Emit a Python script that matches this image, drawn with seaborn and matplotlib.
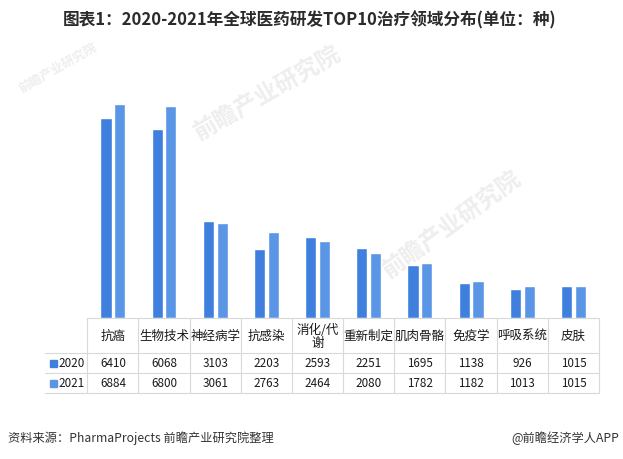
import matplotlib
matplotlib.use("Agg")
import matplotlib.pyplot as plt
import seaborn as sns
import pandas as pd

categories = ['抗癌', '生物技术', '神经病学', '抗感染', '消化/代谢', '重新制定', '肌肉骨骼', '免疫学', '呼吸系统', '皮肤']
cat_labels = ['抗癌', '生物技术', '神经病学', '抗感染', '消化/代\n谢', '重新制定', '肌肉骨骼', '免疫学', '呼吸系统', '皮肤']
years = ['2020', '2021']
v2020 = [6410, 6068, 3103, 2203, 2593, 2251, 1695, 1138, 926, 1015]
v2021 = [6884, 6800, 3061, 2763, 2464, 2080, 1782, 1182, 1013, 1015]
colors = ['#3F80DE', '#5B96E6']

sns.set_style("white")
plt.rcParams['font.family'] = ['Noto Sans CJK SC', 'DejaVu Sans']

df = pd.DataFrame({
    'cat': categories * 2,
    'year': ['2020'] * len(categories) + ['2021'] * len(categories),
    'val': v2020 + v2021,
})

W, H = 623, 460
fig = plt.figure(figsize=(W / 100, H / 100), dpi=100)
left, right, top, bottom = 87.3, 599.0, 70.0, 319.0
ax = fig.add_axes([left / W, 1 - bottom / H, (right - left) / W, (bottom - top) / H])
ax.set_facecolor('none')

def fy(ypix):
    return 1 - ypix / H

def fx(xpix):
    return xpix / W

# faint watermarks (behind everything)
wm = '前瞻产业研究院'
for (cx, cy, ang, fs) in [(268, 93, 30, 17), (452, 225, 36, 17), (58, 68, 30, 9)]:
    fig.text(fx(cx), fy(cy), wm, ha='center', va='center', rotation=ang, fontsize=fs,
             fontweight='bold', color='#EEEEEE', zorder=-5)

sns.barplot(data=df, x='cat', y='val', hue='year', order=categories, hue_order=years,
            palette=colors, width=0.54, gap=0.2, saturation=1, ax=ax, legend=False)
ax.set_xlim(-0.5, len(categories) - 0.5)
ax.set_ylim(0, 8000)
ax.set_xlabel('')
ax.set_ylabel('')
ax.set_xticks([])
ax.set_yticks([])
for s in ax.spines.values():
    s.set_visible(False)

line_col = '#D9D9D9'
col_w = (right - left) / len(categories)
y_top, y_cat, y_r1, y_r2 = 319, 354, 374, 394
fig.add_artist(plt.Line2D([fx(left), fx(right)], [fy(y_top), fy(y_top)], color=line_col, lw=0.8))
for yy in (y_cat, y_r1, y_r2):
    fig.add_artist(plt.Line2D([fx(45), fx(right)], [fy(yy), fy(yy)], color=line_col, lw=0.8))
for i in range(len(categories) + 1):
    xx = left + i * col_w
    fig.add_artist(plt.Line2D([fx(xx), fx(xx)], [fy(y_top), fy(y_r2)], color=line_col, lw=0.8))

txt_col = '#1A1A1A'
for i, lab in enumerate(cat_labels):
    xc = left + (i + 0.5) * col_w
    fig.text(fx(xc), fy((y_top + y_cat) / 2), lab, ha='center', va='center',
             fontsize=9.0, color=txt_col, linespacing=1.0)
    fig.text(fx(xc), fy((y_cat + y_r1) / 2), str(v2020[i]), ha='center', va='center',
             fontsize=8.4, color=txt_col)
    fig.text(fx(xc), fy((y_r1 + y_r2) / 2), str(v2021[i]), ha='center', va='center',
             fontsize=8.4, color=txt_col)

for yr, c, (ya, yb) in zip(years, colors, [(y_cat, y_r1), (y_r1, y_r2)]):
    ym = (ya + yb) / 2
    fig.patches.append(plt.Rectangle((fx(50), fy(ym + 3.5)), 7 / W, 7 / H, color=c,
                                     transform=fig.transFigure, figure=fig))
    fig.text(fx(58), fy(ym), yr, ha='left', va='center', fontsize=8.4, color=txt_col)

fig.text(fx(310), fy(20), '图表1：2020-2021年全球医药研发TOP10治疗领域分布(单位：种)',
         ha='center', va='center', fontsize=12, fontweight='bold', color='#2B2B2B')

fig.text(fx(8), fy(438), '资料来源：PharmaProjects 前瞻产业研究院整理', ha='left', va='center',
         fontsize=8.8, color='#333333')
fig.text(fx(619), fy(438), '@前瞻经济学人APP', ha='right', va='center',
         fontsize=8.8, color='#333333')

fig.savefig('out.png', dpi=100)
